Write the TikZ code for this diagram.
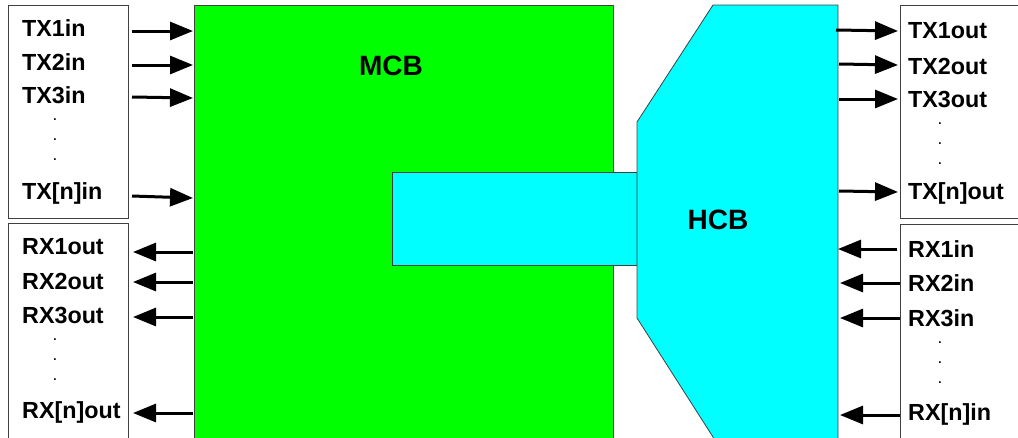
\documentclass[tikz,border=0pt]{standalone}
\usepackage{fontspec}
\setmainfont{Liberation Sans}
\usetikzlibrary{arrows.meta}
\definecolor{mcbgreen}{HTML}{00FF00}
\definecolor{hcbcyan}{HTML}{00FFFF}
\definecolor{edge}{HTML}{404040}
\tikzset{
  lbl/.style={inner sep=0pt, anchor=west, font=\fontsize{23.3}{26}\selectfont\bfseries},
  dotc/.style={inner sep=0pt, font=\fontsize{17}{17}\selectfont},
  sig/.style={line width=3pt, -{Triangle[length=23pt,width=18pt]}},
  frame/.style={draw=edge, line width=0.8pt, fill=white},
  big/.style={font=\fontsize{28}{32}\selectfont\bfseries, inner sep=0pt}
}
\begin{document}
\begin{tikzpicture}[x=1pt,y=-1pt]
\useasboundingbox (0,0) rectangle (1018,437);
\clip (0,0) rectangle (1018,437);
% boxes
\draw[frame] (8,5) rectangle (128,218);
\draw[frame] (8,223) rectangle (128,460);
\draw[frame] (900,5) rectangle (1040,218);
\draw[frame] (900,224) rectangle (1040,460);
% MCB
\draw[draw=edge, line width=0.8pt, fill=mcbgreen] (194,5) rectangle (613,460);
\node[big] (mcb) at (391,66) {MCB};
% bridge
\draw[draw=edge, line width=0.8pt, fill=hcbcyan] (392,172) rectangle (637,265);
% HCB
\draw[draw=edge, line width=0.8pt, fill=hcbcyan] (713,5) -- (838,5) -- (838,460) -- (726,460) -- (713,437) -- (637,318) -- (637,122) -- cycle;
\node[big] (hcb) at (718,220) {HCB};
% left TX labels
\node[lbl] (tx1in) at (22,28) {TX1in};
\node[lbl] (tx2in) at (22,62) {TX2in};
\node[lbl] (tx3in) at (22,95) {TX3in};
\node[dotc] (ld1) at (55,120) {.};
\node[dotc] (ld2) at (55,140) {.};
\node[dotc] (ld3) at (55,160) {.};
\node[lbl] (txnin) at (22,193) {TX[n]in};
% left RX labels
\node[lbl] (rx1out) at (22,247) {RX1out};
\node[lbl] (rx2out) at (22,281) {RX2out};
\node[lbl] (rx3out) at (22,315) {RX3out};
\node[dotc] (ld4) at (55,340) {.};
\node[dotc] (ld5) at (55,360) {.};
\node[dotc] (ld6) at (55,380) {.};
\node[lbl] (rxnout) at (22,412) {RX[n]out};
% right TX labels
\node[lbl] (tx1out) at (908,31) {TX1out};
\node[lbl] (tx2out) at (908,66) {TX2out};
\node[lbl] (tx3out) at (908,99) {TX3out};
\node[dotc] (rd1) at (940,124) {.};
\node[dotc] (rd2) at (940,144) {.};
\node[dotc] (rd3) at (940,164) {.};
\node[lbl] (txnout) at (908,193) {TX[n]out};
% right RX labels
\node[lbl] (rx1in) at (908,249) {RX1in};
\node[lbl] (rx2in) at (908,283) {RX2in};
\node[lbl] (rx3in) at (908,318) {RX3in};
\node[dotc] (rd4) at (940,343) {.};
\node[dotc] (rd5) at (940,363) {.};
\node[dotc] (rd6) at (940,383) {.};
\node[lbl] (rxnin) at (908,414) {RX[n]in};
% arrow end coordinates
\coordinate (a1s) at (132,31); \coordinate (a1e) at (193,31);
\coordinate (a2s) at (132,65); \coordinate (a2e) at (193,65);
\coordinate (a3s) at (132,97); \coordinate (a3e) at (193,98);
\coordinate (a4s) at (132,196); \coordinate (a4e) at (193,198);
\coordinate (b1s) at (193,252); \coordinate (b1e) at (133,252);
\coordinate (b2s) at (193,282); \coordinate (b2e) at (133,282);
\coordinate (b3s) at (193,317); \coordinate (b3e) at (133,317);
\coordinate (b4s) at (193,413); \coordinate (b4e) at (133,413);
\coordinate (c1s) at (836,30); \coordinate (c1e) at (898,31);
\coordinate (c2s) at (839,64); \coordinate (c2e) at (898,65);
\coordinate (c3s) at (839,99); \coordinate (c3e) at (898,99);
\coordinate (c4s) at (839,191); \coordinate (c4e) at (898,192);
\coordinate (d1s) at (897,249); \coordinate (d1e) at (838,249);
\coordinate (d2s) at (900,283); \coordinate (d2e) at (840,283);
\coordinate (d3s) at (900,318); \coordinate (d3e) at (840,318);
\coordinate (d4s) at (900,415); \coordinate (d4e) at (840,415);
\foreach \p in {a1,a2,a3,a4,b1,b2,b3,b4,c1,c2,c3,c4,d1,d2,d3,d4}
  \draw[sig] (\p s) -- (\p e);
\end{tikzpicture}
\end{document}
